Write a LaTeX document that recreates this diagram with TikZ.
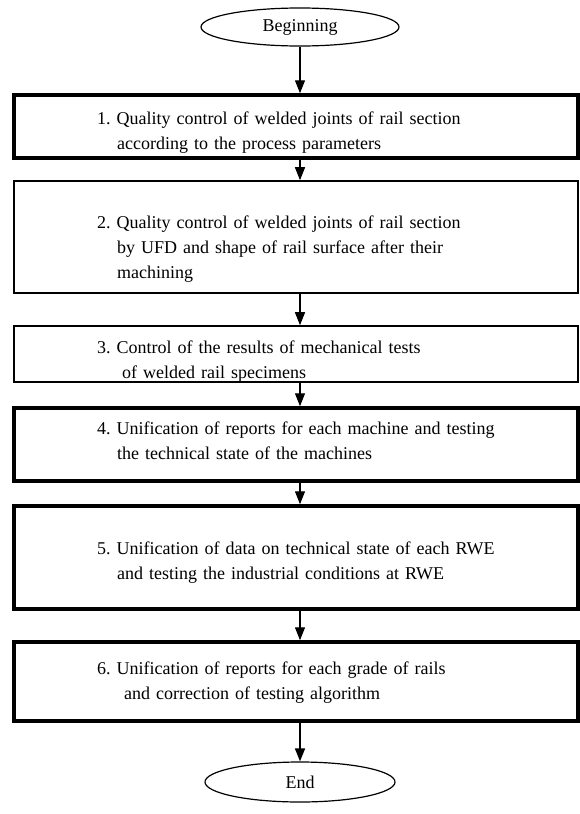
\documentclass[tikz,border=0pt]{standalone}
\usepackage{fontspec}
\setmainfont{Liberation Serif}
\usetikzlibrary{arrows.meta,shapes.geometric}
\frenchspacing
\begin{document}
\begin{tikzpicture}[x=1pt,y=-1pt,
  thickbox/.style={draw, line width=3.5pt, rectangle, minimum width=564pt, inner sep=0pt},
  thinbox/.style={draw, line width=1.6pt, rectangle, minimum width=564pt, inner sep=0pt},
  term/.style={draw, line width=1.2pt, ellipse, inner sep=0pt, font=\fontsize{18}{21}\selectfont},
  txt/.style={anchor=base west, inner sep=0pt, text width=480pt, align=left, font=\fontsize{18}{25}\selectfont},
  flow/.style={line width=1.4pt, -{Triangle[length=13pt,width=10pt]}}
]
\useasboundingbox (0,0) rectangle (580,814);
% terminals
\node[term, minimum width=198pt, minimum height=38pt] (beg) at (300,27) {Beginning};
\node[term, minimum width=190pt, minimum height=40pt] (end) at (300,782) {End};
% boxes
\node[thickbox, minimum height=63pt] (b1) at (296,126.5) {};
\node[thinbox,  minimum height=112pt] (b2) at (296,237) {};
\node[thinbox,  minimum height=56pt] (b3) at (296,354) {};
\node[thickbox, minimum height=73pt] (b4) at (296,444.5) {};
\node[thickbox, minimum height=103pt] (b5) at (296,557.5) {};
\node[thickbox, minimum height=79pt] (b6) at (296,681.5) {};
% texts
\node[txt] (t1) at (97,124) {1. Quality control of welded joints of rail section\\\hspace*{20pt}according to the process parameters};
\node[txt] (t2) at (97,228) {2. Quality control of welded joints of rail section\\\hspace*{20pt}by UFD and shape of rail surface after their\\\hspace*{20pt}machining};
\node[txt] (t3) at (97,353) {3. Control of the results of mechanical tests\\\hspace*{25pt}of welded rail specimens};
\node[txt] (t4) at (97,434) {4. Unification of reports for each machine and testing\\\hspace*{20pt}the technical state of the machines};
\node[txt] (t5) at (97,554) {5. Unification of data on technical state of each RWE\\\hspace*{20pt}and testing the industrial conditions at RWE};
\node[txt] (t6) at (97,674) {6. Unification of reports for each grade of rails\\\hspace*{27pt}and correction of testing algorithm};
% arrows
\draw[flow] (beg.south) -- (beg.south |- b1.north);
\draw[flow] (b1.south -| beg.south) -- (beg.south |- b2.north);
\draw[flow] (b2.south -| beg.south) -- (beg.south |- b3.north);
\draw[flow] (b3.south -| beg.south) -- (beg.south |- b4.north);
\draw[flow] (b4.south -| beg.south) -- (beg.south |- b5.north);
\draw[flow] (b5.south -| beg.south) -- (beg.south |- b6.north);
\draw[flow] (b6.south -| beg.south) -- (end.north);
\end{tikzpicture}
\end{document}
